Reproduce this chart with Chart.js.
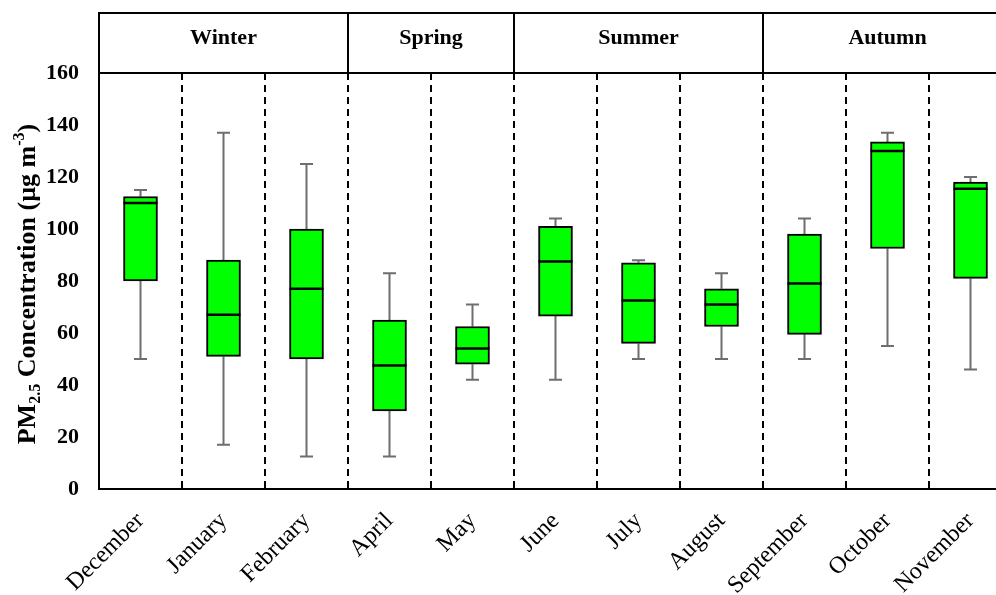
<!DOCTYPE html>
<html>
<head>
<meta charset="utf-8">
<script src="https://cdn.jsdelivr.net/npm/chart.js@4/dist/chart.umd.min.js"></script>
<style>
  html, body { margin: 0; padding: 0; overflow: hidden; background: #fff; }
  #wrap { width: 996px; height: 595px; overflow: hidden; }
</style>
</head>
<body>
<div id="wrap"><canvas id="boxChart" width="1012" height="595"></canvas></div>
<script>
// Mjesečne koncentracije PM2.5 (box plot)
const months = ['December', 'January', 'February', 'April', 'May', 'June', 'July', 'August', 'September', 'October', 'November'];
const whiskerMin = [50, 17, 12.5, 12.5, 42, 42, 50, 50, 50, 55, 46];
const q1 = [80, 51, 50, 30, 48, 66.5, 56, 62.5, 59.5, 92.5, 81];
const median = [110, 67, 77, 47.5, 54, 87.5, 72.5, 71, 79, 130, 115.5];
const q3 = [112.5, 88, 100, 65, 62.5, 101, 87, 77, 98, 133.5, 118];
const whiskerMax = [115, 137, 125, 83, 71, 104, 88, 83, 104, 137, 120];
const seasons = ['Winter', 'Spring', 'Summer', 'Autumn'];
const seasonSpans = [3, 2, 3, 3];
const yMin = 0, yMax = 160, yStep = 20;

const serif = '"Liberation Serif", "Times New Roman", serif';

// brkovi (whiskers) ispod kutija
const whiskerPlugin = {
  id: 'whiskers',
  beforeDatasetsDraw(chart) {
    const { ctx, scales: { x, y } } = chart;
    ctx.save();
    ctx.strokeStyle = '#6e6e6e';
    ctx.lineWidth = 2;
    months.forEach((m, i) => {
      const cx = x.getPixelForValue(i);
      const cap = 6.5;
      ctx.beginPath();
      ctx.moveTo(cx, y.getPixelForValue(q3[i]));
      ctx.lineTo(cx, y.getPixelForValue(whiskerMax[i]));
      ctx.moveTo(cx - cap, y.getPixelForValue(whiskerMax[i]));
      ctx.lineTo(cx + cap, y.getPixelForValue(whiskerMax[i]));
      ctx.moveTo(cx, y.getPixelForValue(q1[i]));
      ctx.lineTo(cx, y.getPixelForValue(whiskerMin[i]));
      ctx.moveTo(cx - cap, y.getPixelForValue(whiskerMin[i]));
      ctx.lineTo(cx + cap, y.getPixelForValue(whiskerMin[i]));
      ctx.stroke();
    });
    ctx.restore();
  },
  afterDatasetsDraw(chart) {
    const { ctx, scales: { y } } = chart;
    const meta = chart.getDatasetMeta(0);
    ctx.save();
    ctx.strokeStyle = '#000';
    ctx.lineWidth = 2.5;
    meta.data.forEach((bar, i) => {
      const py = y.getPixelForValue(median[i]);
      ctx.beginPath();
      ctx.moveTo(bar.x - bar.width / 2, py);
      ctx.lineTo(bar.x + bar.width / 2, py);
      ctx.stroke();
    });
    ctx.restore();
  }
};

// zaglavlje s godišnjim dobima i naslov osi y
const headerPlugin = {
  id: 'seasonHeader',
  afterDraw(chart) {
    const { ctx, chartArea, scales: { x } } = chart;
    const top = 13;
    const bottom = chartArea.top;
    const half = (x.getPixelForValue(1) - x.getPixelForValue(0)) / 2;
    ctx.save();
    ctx.strokeStyle = '#000';
    ctx.lineWidth = 2;
    ctx.fillStyle = '#000';
    ctx.font = 'bold 22px ' + serif;
    ctx.textAlign = 'center';
    ctx.textBaseline = 'middle';
    let start = 0;
    seasons.forEach((s, k) => {
      const end = start + seasonSpans[k] - 1;
      const x0 = x.getPixelForValue(start) - half;
      const x1 = x.getPixelForValue(end) + half;
      ctx.strokeRect(x0, top, x1 - x0, bottom - top);
      ctx.fillText(s, (x0 + x1) / 2, 38);
      start = end + 1;
    });

    // naslov: PM2.5 Concentration (µg m-3)
    const parts = [
      { t: 'PM', size: 26, dy: 0 },
      { t: '2.5', size: 16, dy: 5 },
      { t: ' Concentration (µg m', size: 26, dy: 0 },
      { t: '-3', size: 16, dy: -11 },
      { t: ')', size: 26, dy: 0 }
    ];
    let total = 0;
    parts.forEach(p => {
      ctx.font = 'bold ' + p.size + 'px ' + serif;
      p.w = ctx.measureText(p.t).width;
      total += p.w;
    });
    ctx.translate(35, (chartArea.top + chartArea.bottom) / 2 + 3);
    ctx.rotate(-Math.PI / 2);
    ctx.textAlign = 'left';
    ctx.textBaseline = 'alphabetic';
    let px = -total / 2;
    parts.forEach(p => {
      ctx.font = 'bold ' + p.size + 'px ' + serif;
      ctx.fillText(p.t, px, p.dy);
      px += p.w;
    });
    ctx.restore();
  }
};

const ctx = document.getElementById('boxChart').getContext('2d');
const boxChart = new Chart(ctx, {
  type: 'bar',
  data: {
    labels: months,
    datasets: [{
      label: 'PM2.5',
      data: months.map((m, i) => [q1[i], q3[i]]),
      backgroundColor: '#00ff00',
      borderColor: '#000',
      borderWidth: 2,
      borderSkipped: false,
      barThickness: 34
    }]
  },
  options: {
    responsive: false,
    animation: false,
    layout: { padding: { top: 73, left: 0, right: 0, bottom: 0 } },
    plugins: {
      legend: { display: false },
      tooltip: { enabled: false }
    },
    scales: {
      x: {
        grid: { display: true, offset: true, color: '#000', lineWidth: 2, drawTicks: false },
        border: { display: true, color: '#000', width: 2, dash: [7, 5] },
        ticks: {
          color: '#000',
          font: { family: serif, size: 24 },
          minRotation: 45,
          maxRotation: 45,
          padding: 18,
          labelOffset: 0,
          autoSkip: false
        },
        afterFit(scale) { scale.height = 106; }
      },
      y: {
        min: yMin,
        max: yMax,
        grid: { display: false, drawTicks: false },
        border: { display: true, color: '#000', width: 2 },
        ticks: {
          stepSize: yStep,
          color: '#000',
          padding: 20,
          font: { family: serif, size: 22, weight: 'bold' }
        },
        afterFit(scale) { scale.width = 99; }
      }
    }
  },
  plugins: [whiskerPlugin, headerPlugin]
});
</script>
</body>
</html>
